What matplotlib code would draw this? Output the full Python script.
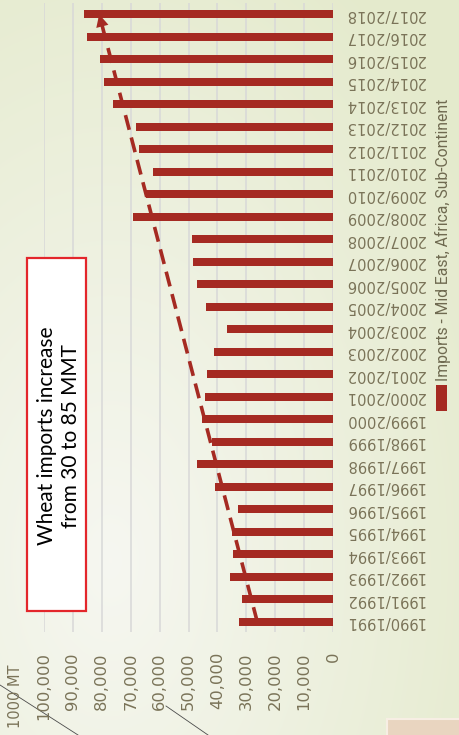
import matplotlib
matplotlib.use('Agg')
from matplotlib import pyplot as plt
from matplotlib.patches import Rectangle
import numpy as np

# data (1000 MT)
seasons = ['1990/1991', '1991/1992', '1992/1993', '1993/1994', '1994/1995',
           '1995/1996', '1996/1997', '1997/1998', '1998/1999', '1999/2000',
           '2000/2001', '2001/2002', '2002/2003', '2003/2004', '2004/2005',
           '2005/2006', '2006/2007', '2007/2008', '2008/2009', '2009/2010',
           '2010/2011', '2011/2012', '2012/2013', '2013/2014', '2014/2015',
           '2015/2016', '2016/2017', '2017/2018']
imports = [32500, 31500, 35500, 34500, 35000, 32800, 40900, 47000, 42000, 45300,
           44200, 43700, 41300, 36700, 43900, 47000, 48400, 48900, 69300, 64700,
           62400, 67100, 68300, 76000, 79100, 80600, 85200, 86200]
value_ticks = [0, 10000, 20000, 30000, 40000, 50000, 60000, 70000, 80000, 90000, 100000]
trend = [26200, 80900]   # dashed trend, first -> last season

series_name = 'Imports - Mid East, Africa, Sub-Continent'
note = 'Wheat imports increase\nfrom 30 to 85 MMT'
unit = '1000 MT'

BAR = '#A52A22'
TXT = '#7A7358'
W, H = 460, 735

fig = plt.figure(figsize=(W / 100, H / 100), dpi=100)

# background gradient (slide template)
bg = fig.add_axes([0, 0, 1, 1], zorder=-10)
yy, xx = np.mgrid[0:H, 0:W]
d = np.sqrt(((xx - 110) / W) ** 2 + ((yy - 560) / H) ** 2)
d = np.clip(d / 0.95, 0, 1)[..., None]
c0 = np.array([0.965, 0.968, 0.945])
c1 = np.array([0.895, 0.918, 0.80])
bg.imshow(c0 * (1 - d) + c1 * d, aspect='auto', extent=[0, W, H, 0])
bg.set_xlim(0, W)
bg.set_ylim(H, 0)
bg.axis('off')
# template decorations
bg.plot([0, 78], [685, 735], color='#4a4a4a', lw=0.6)
bg.plot([166, 208], [706, 735], color='#4a4a4a', lw=0.6)
bg.add_patch(Rectangle((387, 719), 80, 20, facecolor='#E9D5C0', edgecolor='#F7EEE4', lw=1.5))

ax = fig.add_axes([44 / W, 1 - 632 / H, (333 - 44) / W, (632 - 3) / H])
ax.set_facecolor('none')
pos = np.arange(len(seasons))
ax.barh(pos, imports, height=0.36, color=BAR, zorder=3)

ax.set_xlim(100000, 0)
ax.set_ylim(-0.45, 27.5)
ax.set_xticks(value_ticks)
ax.set_xticklabels([f'{v:,}' for v in value_ticks], rotation=90,
                   fontsize=11.8, color=TXT)
ax.tick_params(axis='x', length=0, pad=14.4)
ax.yaxis.tick_right()
ax.set_yticks(pos)
ax.set_yticklabels(seasons, rotation=180, ha='left', va='center',
                   fontsize=10.6, color=TXT)
ax.tick_params(axis='y', length=0, pad=8.6)
ax.grid(axis='x', color='#D8D8D8', lw=1.1, zorder=0)
for s in ax.spines.values():
    s.set_visible(False)

# dashed trend with arrow head
ax.plot(trend, [pos[0], pos[-1]], color=BAR, lw=2.6, ls=(0, (4.2, 2.2)), zorder=4)
tip = (trend[1], pos[-1])
back = (trend[0] + 0.96 * (trend[1] - trend[0]), 0.96 * pos[-1])
ax.annotate('', xy=tip, xytext=back,
            arrowprops=dict(arrowstyle='-|>,head_length=0.9,head_width=0.45',
                            color=BAR, lw=0, shrinkA=0, shrinkB=0), zorder=5)

# unit label
fig.text(16 / W, 1 - 665 / H, unit, rotation=90, ha='center', va='top',
         fontsize=10.5, color=TXT)

# legend (rotated)
fig.patches.append(Rectangle((436 / W, 1 - 411 / H), 11 / W, 26 / H,
                             transform=fig.transFigure, facecolor=BAR, edgecolor='none'))
fig.text(443 / W, 1 - 381 / H, series_name, rotation=90, ha='center', va='bottom',
         fontsize=11.3, color='#6F6A50', family=['Roboto', 'DejaVu Sans'])

# note box
fig.patches.append(Rectangle((27 / W, 1 - 611 / H), 59 / W, 353 / H,
                             transform=fig.transFigure, facecolor='white',
                             edgecolor='#E3262B', lw=1.6, zorder=6))
fig.text(59 / W, 1 - 436 / H, note, rotation=90, ha='center', va='center',
         multialignment='center', fontsize=15, color='black', linespacing=1.3,
         family=['Lato', 'DejaVu Sans'], zorder=7)

plt.savefig('out.png', dpi=100)
plt.close()
